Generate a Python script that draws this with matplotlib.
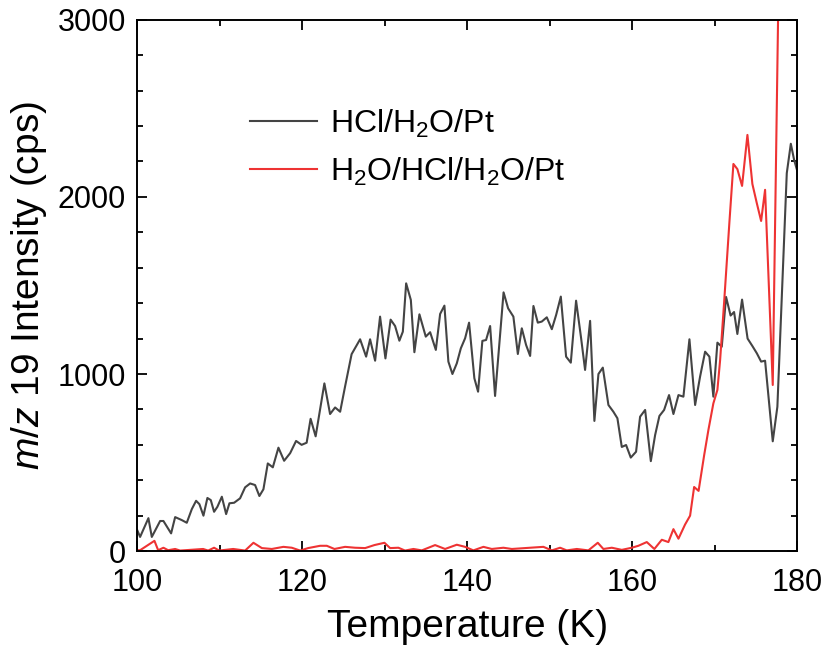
import matplotlib
matplotlib.use('Agg')
import matplotlib.pyplot as plt
from matplotlib.ticker import MultipleLocator

plt.rcParams['font.family'] = ['Liberation Sans', 'DejaVu Sans']
plt.rcParams['mathtext.fontset'] = 'custom'
plt.rcParams['mathtext.rm'] = 'Liberation Sans'
plt.rcParams['mathtext.it'] = 'Liberation Sans:italic'

# HCl/H2O/Pt
temp_a = [100.0, 100.36, 101.37, 101.78, 102.79, 103.19, 104.12, 104.61, 105.42, 106.02,
          106.63, 107.15, 107.55, 108.04, 108.52, 108.93, 109.33, 109.73, 110.27, 110.79,
          111.19, 111.76, 112.48, 113.09, 113.70, 114.30, 114.82, 115.31, 115.84, 116.45,
          117.13, 117.82, 118.55, 119.27, 119.94, 120.55, 121.03, 121.64, 122.70, 123.39,
          124.00, 124.61, 125.21, 126.00, 127.03, 127.76, 128.24, 128.85, 129.45, 130.10,
          130.73, 131.27, 131.79, 132.21, 132.61, 133.18, 133.61, 134.22, 134.99, 135.52,
          136.21, 136.73, 137.25, 137.73, 138.22, 138.75, 139.24, 139.76, 140.24, 140.88,
          141.33, 141.85, 142.30, 142.79, 143.39, 143.88, 144.42, 144.97, 145.61, 146.15,
          146.63, 147.15, 147.64, 148.04, 148.57, 149.05, 149.66, 150.27, 150.79, 151.36,
          152.00, 152.57, 153.21, 153.82, 154.30, 154.91, 155.43, 155.92, 156.45, 157.13,
          157.73, 158.22, 158.75, 159.27, 159.84, 160.48, 160.97, 161.58, 162.27, 162.79,
          163.31, 163.88, 164.48, 165.01, 165.62, 166.22, 166.95, 167.64, 168.24, 168.85,
          169.37, 169.85, 170.34, 170.87, 171.39, 171.94, 172.36, 172.76, 173.33, 174.00,
          174.58, 175.12, 175.64, 176.12, 177.05, 177.61, 178.75, 179.24, 179.64, 180.00]
hcl_h2o = [120, 80, 186, 80, 170, 170, 100, 192, 175, 160,
           237, 284, 265, 200, 300, 288, 222, 250, 307, 209,
           270, 273, 298, 360, 382, 373, 311, 349, 495, 473,
           584, 510, 553, 622, 600, 612, 747, 648, 947, 774,
           811, 787, 930, 1112, 1196, 1098, 1196, 1075, 1324, 1088,
           1307, 1271, 1188, 1239, 1512, 1418, 1123, 1337, 1211, 1236,
           1136, 1339, 1386, 1070, 1000, 1060, 1145, 1202, 1290, 976,
           900, 1187, 1192, 1271, 876, 1151, 1461, 1371, 1324, 1113,
           1258, 1164, 1102, 1384, 1290, 1296, 1320, 1253, 1333, 1437,
           1098, 1064, 1414, 1202, 1023, 1300, 735, 1000, 1036, 825,
           787, 750, 588, 599, 528, 561, 759, 797, 508, 655,
           763, 797, 881, 774, 881, 872, 1196, 825, 985, 1126,
           1098, 872, 1177, 1154, 1435, 1330, 1350, 1226, 1420, 1200,
           1158, 1117, 1070, 1075, 620, 815, 2134, 2300, 2209, 2150]

# H2O/HCl/H2O/Pt
temp_b = [100.0, 100.36, 102.10, 102.55, 103.19, 103.76, 104.61, 105.21, 108.00, 108.61,
          109.33, 109.94, 111.64, 113.09, 114.10, 115.12, 116.33, 117.73, 118.75, 119.76,
          120.73, 122.18, 122.99, 123.92, 125.21, 126.42, 127.64, 128.76, 129.98, 130.67,
          131.67, 132.48, 133.49, 134.51, 136.12, 137.33, 138.75, 139.76, 140.76, 141.98,
          142.99, 144.40, 145.42, 147.64, 149.25, 150.27, 151.27, 152.08, 153.30, 154.70,
          155.84, 156.52, 157.54, 158.75, 159.96, 160.76, 161.78, 162.70, 163.60, 164.40,
          165.01, 165.62, 166.42, 167.03, 167.52, 168.06, 168.73, 169.25, 169.85, 170.34,
          170.67, 171.15, 171.79, 172.28, 172.76, 173.33, 173.98, 174.58, 175.12, 175.64,
          176.12, 177.05, 177.88, 178.91, 180.00]
h2o_hcl_h2o = [5, 5, 58, 5, 19, 5, 12, 3, 12, 3,
               19, 3, 12, 3, 47, 17, 12, 24, 19, 3,
               17, 30, 30, 12, 24, 19, 17, 34, 47, 17,
               19, 3, 12, 4, 34, 12, 36, 24, 4, 24,
               12, 19, 12, 19, 24, 4, 19, 4, 12, 4,
               47, 12, 19, 7, 19, 30, 51, 12, 64, 51,
               124, 70, 150, 200, 362, 340, 540, 684, 834, 910,
               1079, 1401, 1853, 2186, 2157, 2062, 2350, 2073, 1964, 1864,
               2040, 938, 3600, 4500, 5000]

fig = plt.figure(figsize=(8.26, 6.6), dpi=100)
ax = fig.add_axes([0.166, 0.165, 0.799, 0.805])

ax.plot(temp_a, hcl_h2o, color='#444444', lw=1.5, label='HCl/H$_\\mathregular{2}$O/Pt')
ax.plot(temp_b, h2o_hcl_h2o, color='#ee3333', lw=1.5, label='H$_\\mathregular{2}$O/HCl/H$_\\mathregular{2}$O/Pt')

ax.set_xlim(100, 180)
ax.set_ylim(0, 3000)
ax.xaxis.set_major_locator(MultipleLocator(20))
ax.xaxis.set_minor_locator(MultipleLocator(10))
ax.yaxis.set_major_locator(MultipleLocator(1000))
ax.yaxis.set_minor_locator(MultipleLocator(200))
ax.tick_params(which='both', direction='in', top=True, right=True, labelsize=22, width=1.3)
ax.tick_params(which='major', length=7)
ax.tick_params(which='minor', length=4)
ax.tick_params(axis='x', which='major', pad=12)
ax.tick_params(axis='y', which='major', pad=8)
for s in ax.spines.values():
    s.set_linewidth(1.4)

ax.set_xlabel('Temperature (K)', fontsize=28, labelpad=8)
ax.set_ylabel('$m/z$ 19 Intensity (cps)', fontsize=28, labelpad=6)

ax.legend(loc='upper left', bbox_to_anchor=(0.171, 0.835), frameon=False, fontsize=23,
          handlelength=2.1, labelspacing=0.5, handletextpad=0.4,
          borderpad=0, borderaxespad=0)

fig.savefig('out.png', dpi=100)
